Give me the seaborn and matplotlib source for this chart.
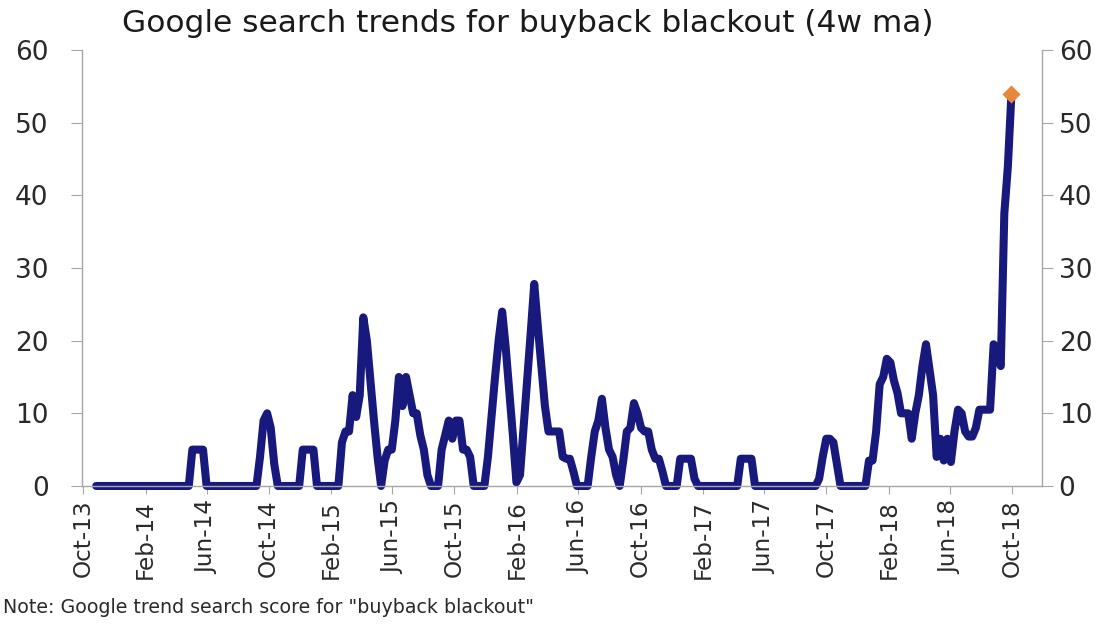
import matplotlib
matplotlib.use("Agg")
import matplotlib.pyplot as plt
import seaborn as sns
import pandas as pd

# ---- data (weekly, 4w moving average of Google trend score) ----
start_week = "2013-10-27"
scores = [
    0, 0, 0, 0, 0, 0, 0, 0, 0, 0,
    0, 0, 0, 0, 0, 0, 0, 0, 0, 0,
    0, 0, 0, 0, 0, 0, 0, 5, 5, 5,
    5, 0, 0, 0, 0, 0, 0, 0, 0, 0,
    0, 0, 0, 0, 0, 0, 4, 9, 10, 8,
    3, 0, 0, 0, 0, 0, 0, 0, 5, 5,
    5, 5, 0, 0, 0, 0, 0, 0, 0, 6,
    7.5, 7.5, 12.5, 9.5, 12.5, 23.2, 20, 14.5, 9, 4,
    0, 3.5, 5, 5, 9, 15, 11, 15, 12.5, 10,
    10, 7, 5, 1.5, 0, 0, 0, 5, 7, 9,
    6.5, 9, 9, 5, 5, 4, 0, 0, 0, 0,
    4, 9.5, 15, 20, 24, 19, 13, 7, 0.5, 1.5,
    8, 14.5, 21, 27.8, 22, 16.5, 11, 7.5, 7.5, 7.5,
    7.5, 4, 3.75, 3.75, 2, 0, 0, 0, 0, 4,
    7.5, 9, 12, 8, 5, 4, 1.5, 0, 3.5, 7.5,
    8, 11.4, 10, 8, 7.5, 7.5, 5, 3.75, 3.75, 2,
    0, 0, 0, 0, 3.75, 3.75, 3.75, 3.75, 1, 0,
    0, 0, 0, 0, 0, 0, 0, 0, 0, 0,
    0, 3.75, 3.75, 3.75, 3.75, 0, 0, 0, 0, 0,
    0, 0, 0, 0, 0, 0, 0, 0, 0, 0,
    0, 0, 0, 1, 4, 6.5, 6.5, 6, 3, 0,
    0, 0, 0, 0, 0, 0, 0, 3.5, 3.5, 7.5,
    14, 15, 17.5, 17, 14.5, 12.8, 10, 10, 10, 6.5,
    10, 12.5, 16.5, 19.5, 16, 12.5, 4, 6.5, 3.5, 6.5,
    3.3, 7.5, 10.5, 10, 7.5, 6.8, 6.8, 8, 10.5, 10.5,
    10.5, 10.5, 19.5, 18, 16.5, 37.5, 44, 54,
]

tick_dates = ["2013-10-01", "2014-02-01", "2014-06-01", "2014-10-01",
              "2015-02-01", "2015-06-01", "2015-10-01", "2016-02-01",
              "2016-06-01", "2016-10-01", "2017-02-01", "2017-06-01",
              "2017-10-01", "2018-02-01", "2018-06-01", "2018-10-01"]
tick_labels = ["Oct-13", "Feb-14", "Jun-14", "Oct-14", "Feb-15", "Jun-15",
               "Oct-15", "Feb-16", "Jun-16", "Oct-16", "Feb-17", "Jun-17",
               "Oct-17", "Feb-18", "Jun-18", "Oct-18"]
y_ticks = [0, 10, 20, 30, 40, 50, 60]

title = "Google search trends for buyback blackout (4w ma)"
note = 'Note: Google trend search score for "buyback blackout"'

dates = pd.date_range(start_week, periods=len(scores), freq="7D")
df = pd.DataFrame({"date": dates, "score": scores})

sns.set_style("ticks")
plt.rcParams["font.family"] = ["DejaVu Sans"]

navy = "#18197d"
orange = "#e8873a"
grey = "#a6a6a6"
txt = "#2a2a2a"

fig = plt.figure(figsize=(11.15, 6.24), dpi=100)
ax = fig.add_axes([0.0735, 0.2212, 0.861, 0.6987])

sns.lineplot(data=df, x="date", y="score", ax=ax, color=navy, linewidth=5.8,
             clip_on=False, solid_joinstyle="round", solid_capstyle="round")
sns.scatterplot(data=df.tail(1), x="date", y="score", ax=ax, marker="D", s=85,
                color=orange, edgecolor=orange, linewidth=0, zorder=5, clip_on=False)

ax.set_xlim(pd.Timestamp("2013-09-29"), pd.Timestamp("2018-11-29"))
ax.set_ylim(0, 60)
ax.set_xticks(pd.to_datetime(tick_dates))
ax.set_xticklabels(tick_labels, rotation=90, fontsize=16.7, color=txt)
ax.set_yticks(y_ticks)
ax.set_yticklabels([str(v) for v in y_ticks], fontsize=19, color=txt)
ax.set_xlabel("")
ax.set_ylabel("")

ax2 = ax.twinx()
ax2.set_ylim(0, 60)
ax2.set_yticks(y_ticks)
ax2.set_yticklabels([str(v) for v in y_ticks], fontsize=19, color=txt)

for a in (ax, ax2):
    a.spines["top"].set_visible(False)
    for s in a.spines.values():
        s.set_color(grey)
        s.set_linewidth(1.0)
ax.spines["right"].set_visible(False)
ax2.spines["left"].set_visible(False)
ax2.spines["bottom"].set_visible(False)

ax.tick_params(axis="x", length=6, color=grey, pad=4)
ax.tick_params(axis="y", length=8, color=grey, pad=16)
ax2.tick_params(axis="y", length=8, color=grey, pad=4)

fig.text(0.473, 0.962, title, ha="center", va="center", fontsize=22.5, color="#1a1a1a")
fig.text(0.003, 0.026, note, ha="left", va="center", fontsize=13.7, color=txt)

fig.savefig("out.png", dpi=100, facecolor="white")
